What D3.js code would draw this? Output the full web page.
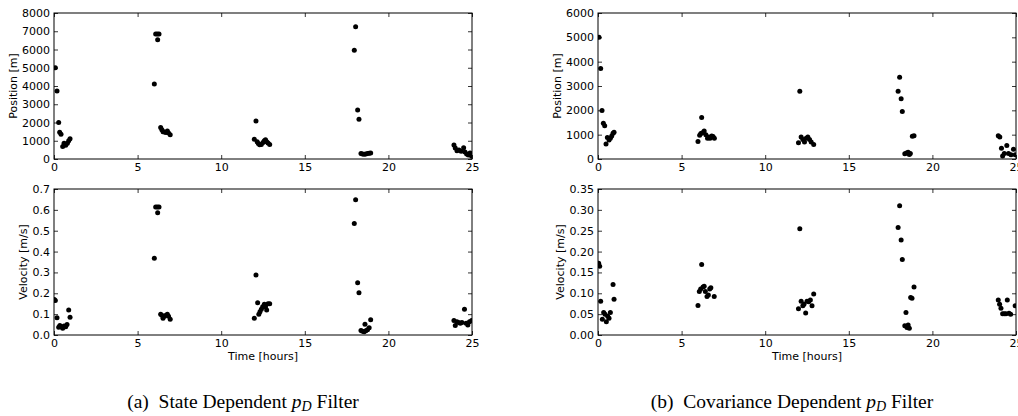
<!DOCTYPE html>
<html><head><meta charset="utf-8">
<script src="https://cdn.jsdelivr.net/npm/d3@7"></script>
<style>
html,body{margin:0;padding:0;background:#fff;}
svg text{font-family:"DejaVu Sans",sans-serif;}
</style></head>
<body><svg id="c" width="1018" height="416"></svg>
<script>
// ---------- DATA ----------
const xTicks = [0, 5, 10, 15, 20, 25];
const posTicksA = [0,1000,2000,3000,4000,5000,6000,7000,8000];
const velTicksA = [0,0.1,0.2,0.3,0.4,0.5,0.6,0.7];
const posTicksB = [0,1000,2000,3000,4000,5000,6000];
const velTicksB = [0,0.05,0.10,0.15,0.20,0.25,0.30,0.35];

// (a) State dependent pD filter — position
const aPosT = [0.08,0.18,0.28,0.34,0.42,0.52,0.6,0.7,0.8,0.88,0.96,
  6.0,6.08,6.18,6.2,6.28,6.38,6.45,6.52,6.6,6.7,6.78,6.85,6.95,
  11.98,12.08,12.15,12.22,12.3,12.4,12.5,12.58,12.65,12.72,12.8,12.9,
  17.96,18.04,18.16,18.24,18.36,18.45,18.55,18.65,18.75,18.85,18.94,
  23.92,24.0,24.1,24.22,24.35,24.5,24.58,24.68,24.78,24.88,24.98];
const aPosV = [5000,3720,2000,1460,1360,680,860,760,860,1000,1110,
  4110,6850,6850,6540,6850,1720,1600,1500,1480,1450,1530,1420,1330,
  1080,2080,950,850,780,800,900,1000,1050,950,880,800,
  5960,7250,2690,2180,300,270,260,280,300,310,330,
  770,600,450,500,420,610,380,270,220,330,150];

// (a) velocity
const aVelT = [0.02,0.08,0.18,0.28,0.35,0.42,0.52,0.6,0.7,0.78,0.88,0.96,
  6.0,6.08,6.18,6.2,6.28,6.38,6.45,6.52,6.6,6.7,6.78,6.85,6.95,
  11.98,12.08,12.18,12.25,12.32,12.4,12.48,12.58,12.65,12.72,12.8,12.9,
  17.96,18.04,18.16,18.24,18.36,18.45,18.55,18.6,18.65,18.75,18.85,18.94,
  23.92,24.0,24.1,24.2,24.3,24.4,24.55,24.65,24.75,24.85,24.98];
const aVelV = [0.17,0.165,0.083,0.037,0.045,0.04,0.032,0.043,0.04,0.05,0.12,0.085,
  0.368,0.614,0.614,0.586,0.614,0.1,0.095,0.08,0.09,0.095,0.1,0.09,0.075,
  0.08,0.288,0.155,0.1,0.112,0.123,0.136,0.147,0.135,0.12,0.15,0.15,
  0.535,0.649,0.251,0.203,0.022,0.018,0.015,0.051,0.02,0.025,0.035,0.073,
  0.069,0.045,0.063,0.06,0.056,0.06,0.123,0.056,0.048,0.064,0.07];

// (b) Covariance dependent pD filter — position
const bPosT = [0.06,0.16,0.24,0.32,0.4,0.48,0.56,0.66,0.74,0.82,0.9,0.96,
  5.98,6.08,6.15,6.2,6.25,6.35,6.45,6.55,6.62,6.7,6.8,6.88,6.96,
  11.99,12.07,12.15,12.25,12.35,12.45,12.55,12.65,12.75,12.9,
  17.95,18.04,18.13,18.2,18.35,18.45,18.55,18.62,18.68,18.8,18.9,
  23.94,24.03,24.13,24.2,24.3,24.45,24.55,24.7,24.85,24.95];
const bPosV = [5000,3720,1990,1470,1370,620,880,780,850,950,1060,1100,
  720,980,1050,1710,1080,1150,1000,850,900,850,950,920,850,
  670,2780,900,800,700,850,900,800,700,600,
  2780,3360,2480,1950,220,250,280,180,230,940,960,
  960,900,440,120,230,550,230,170,400,170];

// (b) velocity
const bVelT = [0.04,0.1,0.16,0.26,0.34,0.42,0.5,0.58,0.66,0.74,0.9,0.96,
  5.98,6.06,6.14,6.2,6.28,6.35,6.42,6.52,6.6,6.68,6.75,6.95,
  11.99,12.07,12.15,12.25,12.32,12.42,12.5,12.6,12.7,12.8,12.9,
  17.95,18.04,18.13,18.2,18.35,18.42,18.48,18.55,18.62,18.7,18.78,18.9,
  23.94,24.02,24.1,24.2,24.3,24.4,24.48,24.58,24.68,24.95];
const bVelV = [0.172,0.165,0.081,0.038,0.054,0.05,0.032,0.045,0.04,0.054,0.121,0.086,
  0.071,0.104,0.11,0.169,0.115,0.117,0.104,0.092,0.096,0.11,0.113,0.092,
  0.063,0.255,0.081,0.07,0.074,0.053,0.081,0.08,0.084,0.07,0.098,
  0.258,0.31,0.228,0.181,0.022,0.054,0.018,0.024,0.016,0.09,0.088,0.115,
  0.084,0.074,0.064,0.051,0.051,0.051,0.084,0.052,0.05,0.07];

const posLabel = "Position [m]";
const velLabel = "Velocity [m/s]";
const timeLabel = "Time [hours]";

// ---------- DRAW ----------
const svg = d3.select("#c");
let clipId = 0;

function panel(o) {
  const x = d3.scaleLinear().domain([0, 25]).range([o.x0, o.x1]);
  const y = d3.scaleLinear().domain([0, o.ymax]).range([o.y1, o.y0]);
  const g = svg.append("g");
  const id = "clip" + (clipId++);
  svg.append("clipPath").attr("id", id).append("rect")
    .attr("x", o.x0).attr("y", o.y0).attr("width", o.x1 - o.x0).attr("height", o.y1 - o.y0);

  const tk = 4;
  const axStyle = s => {
    s.select(".domain").remove();
    s.selectAll(".tick line").attr("stroke", "#000").attr("stroke-width", 0.8);
    s.selectAll(".tick text").attr("fill", "#000").style("font-size", "11px")
      .style("font-family", '"DejaVu Sans",sans-serif');
  };
  g.append("g").attr("transform", `translate(0,${o.y1})`)
    .call(d3.axisBottom(x).tickValues(xTicks).tickSizeInner(-tk).tickSizeOuter(0).tickPadding(4).tickFormat(d3.format("d")))
    .call(axStyle);
  g.append("g").attr("transform", `translate(0,${o.y0})`)
    .call(d3.axisTop(x).tickValues(xTicks).tickSizeInner(-tk).tickSizeOuter(0).tickFormat(""))
    .call(axStyle);
  g.append("g").attr("transform", `translate(${o.x0},0)`)
    .call(d3.axisLeft(y).tickValues(o.yTicks).tickSizeInner(-tk).tickSizeOuter(0).tickPadding(4).tickFormat(o.fmt))
    .call(axStyle);
  g.append("g").attr("transform", `translate(${o.x1},0)`)
    .call(d3.axisRight(y).tickValues(o.yTicks).tickSizeInner(-tk).tickSizeOuter(0).tickFormat(""))
    .call(axStyle);

  g.append("rect").attr("x", o.x0).attr("y", o.y0)
    .attr("width", o.x1 - o.x0).attr("height", o.y1 - o.y0)
    .attr("fill", "none").attr("stroke", "#000").attr("stroke-width", 1);

  g.append("g").attr("clip-path", `url(#${id})`)
    .selectAll("circle").data(o.t.map((t, i) => [t, o.v[i]])).join("circle")
    .attr("cx", d => x(d[0])).attr("cy", d => y(d[1])).attr("r", 2.5).attr("fill", "#000");

  g.append("text").attr("transform", `translate(${o.ylx},${(o.y0 + o.y1) / 2}) rotate(-90)`)
    .attr("text-anchor", "middle").attr("dy", "0.35em").style("font-size", "11px").text(o.ylabel);
  if (o.xlabel) {
    g.append("text").attr("x", (o.x0 + o.x1) / 2).attr("y", o.y1 + 25)
      .attr("text-anchor", "middle").style("font-size", "11px").text(o.xlabel);
  }
}

const fmtInt = d3.format("d");
panel({x0: 54, x1: 472, y0: 13, y1: 159, ymax: 8000, yTicks: posTicksA, fmt: fmtInt,
  t: aPosT, v: aPosV, ylabel: posLabel, ylx: 13});
panel({x0: 54, x1: 472, y0: 189, y1: 335, ymax: 0.7, yTicks: velTicksA, fmt: d3.format(".1f"),
  t: aVelT, v: aVelV, ylabel: velLabel, ylx: 23, xlabel: timeLabel});
panel({x0: 598, x1: 1016, y0: 13, y1: 159, ymax: 6000, yTicks: posTicksB, fmt: fmtInt,
  t: bPosT, v: bPosV, ylabel: posLabel, ylx: 557});
panel({x0: 598, x1: 1016, y0: 189, y1: 335, ymax: 0.35, yTicks: velTicksB, fmt: d3.format(".2f"),
  t: bVelT, v: bVelV, ylabel: velLabel, ylx: 560, xlabel: timeLabel});

// captions
function caption(cx, tag, pre) {
  const t = svg.append("text").attr("x", cx).attr("y", 408).attr("text-anchor", "middle")
    .style("font-family", '"Liberation Serif","Times New Roman",serif').style("font-size", "19.5px").attr("fill", "#000");
  t.append("tspan").text(tag + "\u00a0\u00a0" + pre + " ");
  t.append("tspan").style("font-style", "italic").text("p");
  t.append("tspan").style("font-style", "italic").style("font-size", "14px").attr("dy", 3).text("D");
  t.append("tspan").attr("dy", -3).text(" Filter");
}
caption(243, "(a)", "State Dependent");
caption(792, "(b)", "Covariance Dependent");
</script></body></html>
